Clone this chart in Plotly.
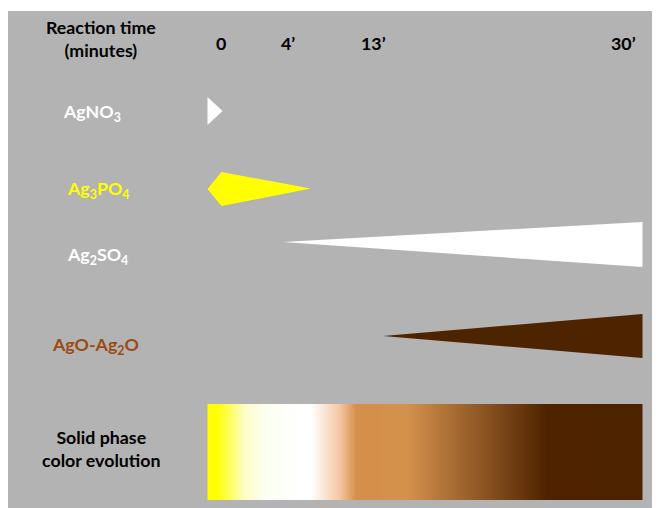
import numpy as np
import plotly.graph_objects as go

# ---- data ----
time_labels = ["0", "4\u2019", "13\u2019", "30\u2019"]
time_minutes = [0, 4, 13, 30]

phase_names = ["AgNO<sub>3</sub>", "Ag<sub>3</sub>PO<sub>4</sub>", "Ag<sub>2</sub>SO<sub>4</sub>", "AgO-Ag<sub>2</sub>O"]
phase_start = [0, 0, 4, 13]       # minutes
phase_end = [0.8, 6.5, 30, 30]    # minutes
phase_colors = ["#ffffff", "#ffff00", "#ffffff", "#4e2300"]
label_colors = ["#ffffff", "#ffff00", "#ffffff", "#9a4b12"]

# colour evolution of the solid phase (minute, colour)
evo_minutes = [0, 0.5, 2.0, 3.05, 5.5, 6.6, 9.1, 10.6, 14.6, 23.7, 30]
evo_colors = ["#ffff00", "#ffff00", "#fdfdc8", "#fbfff0", "#ffffff", "#ffffff",
              "#f5c7a3", "#d4904b", "#d4914c", "#4f2300", "#4e2300"]

# ---- layout helpers (schematic, non-linear time axis) ----
W, H = 660, 508
OFF = 8                                      # page body margin
axis_pos = [207.5, 283, 383, 642.5]          # where the marks sit for each tick time
label_pos = [220.5, 288, 373.5, 623.5]        # where tick labels are centred
row_y = [111, 189, 244.5, 336]
half_h = [14, 17, 22.5, 22]
font = "Lato"
FS = 17.8


def tx(t):
    return float(np.interp(t, time_minutes, axis_pos))


fig = go.Figure()

# grey panel
fig.add_shape(type="rect", x0=8, x1=W, y0=11, y1=H, fillcolor="#b3b3b3",
              line=dict(width=0), layer="below")

# phases
for i, name in enumerate(phase_names):
    x0, x1 = tx(phase_start[i]), tx(phase_end[i])
    y, h = row_y[i], half_h[i]
    if i == 0:      # small arrow head
        xs = [x0, x0, x1, x0]
        ys = [y - h, y + h, y, y - h]
    elif i == 1:    # kite
        xm = x0 + 14
        xs = [x0, xm, x1, xm, x0]
        ys = [y, y - h, y - 0.5, y + h, y]
    else:           # growing wedge
        yt = y - 2.5 if i == 2 else y
        xs = [x0, x1, x1, x0]
        ys = [yt, y - h, y + h, yt]
    fig.add_trace(go.Scatter(x=xs, y=ys, fill="toself", fillcolor=phase_colors[i],
                             mode="lines", line=dict(width=0, color=phase_colors[i]),
                             hoverinfo="skip", showlegend=False))
    lab_y = [112, 189, 255, 345][i]
    lab_x = [92, 98.5, 97.5, 95][i]
    fig.add_annotation(x=lab_x, y=lab_y, text="<b>" + name + "</b>", showarrow=False,
                       font=dict(family=font, size=FS, color=label_colors[i]),
                       xanchor="center", yanchor="middle")

# gradient bar
edges = np.linspace(tx(0), tx(30), 437)
mids = (edges[:-1] + edges[1:]) / 2
span = tx(30) - tx(0)
stops = [(tx(m) - tx(0)) / span for m in evo_minutes]
stops[0], stops[-1] = 0.0, 1.0
fig.add_trace(go.Heatmap(x=edges, y=[404, 500], z=[(mids - tx(0)) / span],
                         colorscale=[[s, c] for s, c in zip(stops, evo_colors)],
                         zmin=0, zmax=1, showscale=False, hoverinfo="skip"))

# tick labels and header
for lab, xp in zip(time_labels, label_pos):
    fig.add_annotation(x=xp, y=43, text="<b>" + lab + "</b>", showarrow=False,
                       font=dict(family=font, size=FS, color="#000000"),
                       xanchor="center", yanchor="middle")
fig.add_annotation(x=101, y=38.5, text="<b>Reaction time<br>(minutes)</b>", showarrow=False,
                   font=dict(family=font, size=FS, color="#000000"),
                   xanchor="center", yanchor="middle")
fig.add_annotation(x=101, y=448.5, text="<b>Solid phase<br>color evolution</b>", showarrow=False,
                   font=dict(family=font, size=FS, color="#000000"),
                   xanchor="center", yanchor="middle")

fig.update_layout(width=W - OFF, height=H - OFF, margin=dict(l=0, r=0, t=0, b=0),
                  paper_bgcolor="#ffffff", plot_bgcolor="rgba(0,0,0,0)",
                  xaxis=dict(range=[OFF, W], visible=False, fixedrange=True),
                  yaxis=dict(range=[H, OFF], visible=False, fixedrange=True),
                  showlegend=False)

fig.write_html("out.html")
